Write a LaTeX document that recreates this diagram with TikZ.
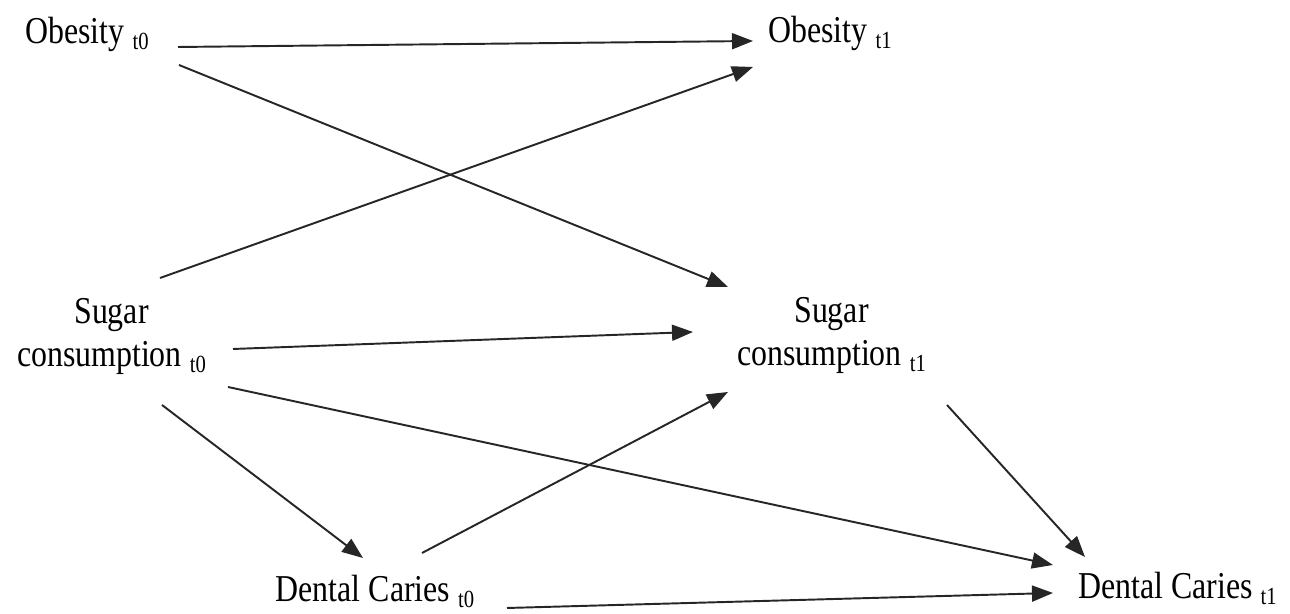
\documentclass[tikz,border=0pt]{standalone}
\usepackage{fontspec}
\newfontfamily\labelfont[FakeStretch=0.84]{Liberation Serif}
\usetikzlibrary{arrows.meta}

\newcommand{\tsub}[1]{\raisebox{-3.5pt}{\fontsize{14}{14}\selectfont #1}}

\tikzset{
  var/.style={align=center, inner sep=0, font=\labelfont\fontsize{21.6}{24.5}\selectfont},
  link/.style={-{Triangle[length=0.42cm, width=0.32cm]}, line width=1.1pt, draw=black!85}
}

\begin{document}
\begin{tikzpicture}
  \useasboundingbox (0, 0) rectangle (25.8, 12.28);

  \node[var] (obese0) at (1.74, 11.59) {Obesity \tsub{t0}};
  \node[var] (obese1) at (16.6, 11.61) {Obesity \tsub{t1}};
  \node[var] (sugar0) at (2.23, 5.55) {Sugar\\consumption \tsub{t0}};
  \node[var] (sugar1) at (16.63, 5.57) {Sugar\\consumption \tsub{t1}};
  \node[var] (caries0) at (7.5, 0.45) {Dental Caries \tsub{t0}};
  \node[var] (caries1) at (23.55, 0.51) {Dental Caries \tsub{t1}};

  % from obesity t0
  \draw[link] ([xshift=1.82cm, yshift=-0.25cm]obese0.center) -- ([xshift=-1.54cm, yshift=-0.15cm]obese1.center);
  \draw[link] ([xshift=1.84cm, yshift=-0.61cm]obese0.center) -- ([xshift=-2.07cm, yshift=0.97cm]sugar1.center);

  % from sugar consumption t0
  \draw[link] ([xshift=0.97cm, yshift=1.17cm]sugar0.center) -- ([xshift=-1.54cm, yshift=-0.67cm]obese1.center);
  \draw[link] ([xshift=2.43cm, yshift=-0.25cm]sugar0.center) -- ([xshift=-2.77cm, yshift=0.07cm]sugar1.center);
  \draw[link] ([xshift=2.33cm, yshift=-1.01cm]sugar0.center) -- ([xshift=-2.49cm, yshift=0.47cm]caries1.center);
  \draw[link] ([xshift=1.01cm, yshift=-1.37cm]sugar0.center) -- ([xshift=-0.24cm, yshift=0.67cm]caries0.center);

  % from dental caries t0
  \draw[link] ([xshift=0.94cm, yshift=0.77cm]caries0.center) -- ([xshift=-2.07cm, yshift=-1.13cm]sugar1.center);
  \draw[link] ([xshift=2.64cm, yshift=-0.33cm]caries0.center) -- ([xshift=-2.49cm, yshift=-0.09cm]caries1.center);

  % from sugar consumption t1
  \draw[link] ([xshift=2.31cm, yshift=-1.39cm]sugar1.center) -- ([xshift=-1.85cm, yshift=0.63cm]caries1.center);
\end{tikzpicture}
\end{document}
